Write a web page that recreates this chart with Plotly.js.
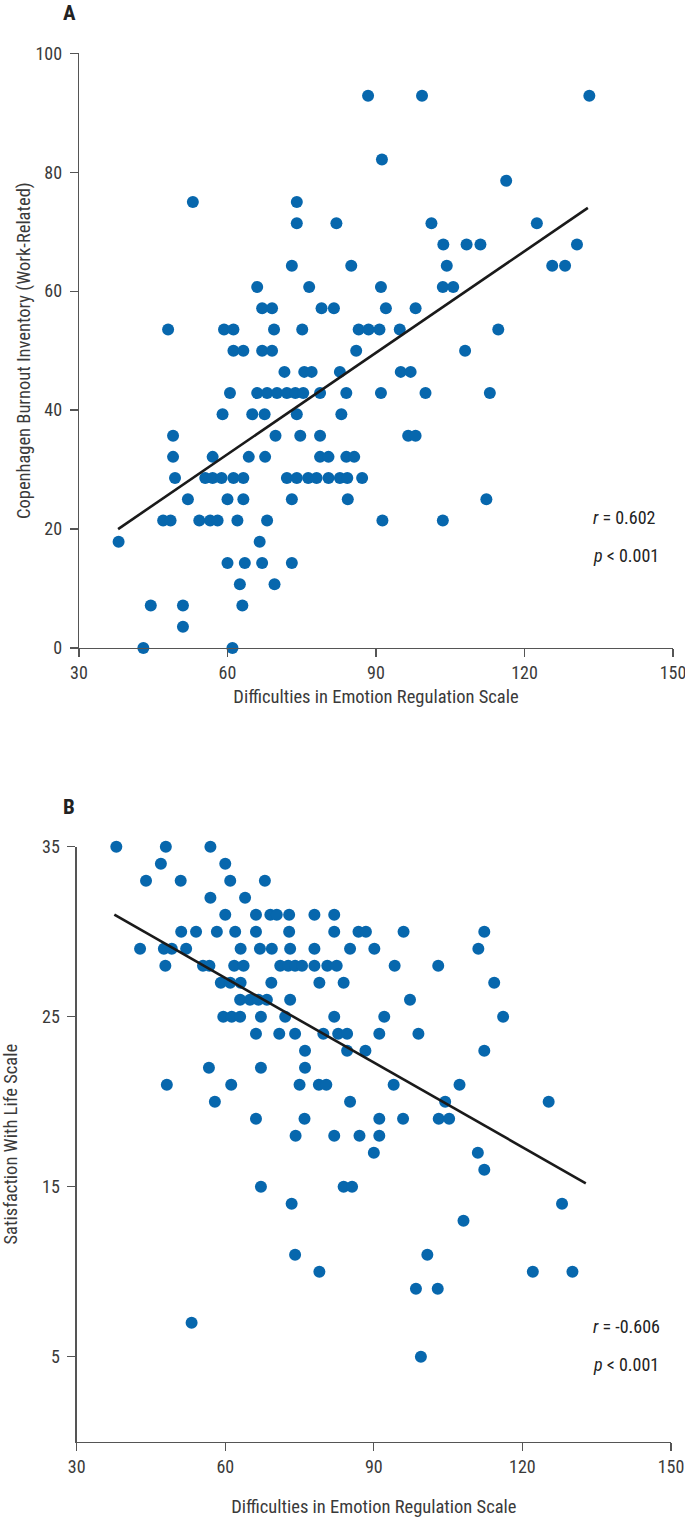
<!DOCTYPE html>
<html>
<head>
<meta charset="utf-8">
<script src="https://cdn.plot.ly/plotly-3.0.1.min.js"></script>
<style>html,body{margin:0;padding:0;background:#fff;}#chart{width:685px;height:1519px;}</style>
</head>
<body>
<div id="chart"></div>
<script>
// Panel A: DERS (x) vs Copenhagen Burnout Inventory work-related (y)
const xA = [43, 61,
  51,
  44.5, 51, 63,
  62.5, 69.5,
  60, 63.5, 67, 73,
  38, 66.5,
  47, 48.5, 54.3, 56.5, 58, 62, 68, 91.3, 103.5,
  52, 60, 63.2, 73, 84.3, 112.3,
  49.4, 55.5, 57, 58.8, 61.2, 63.2, 72, 74, 76.3, 78, 80.4, 82.7, 84.2, 87.2,
  49, 57, 64.3, 67.6, 78.7, 80.4, 84, 85.6,
  49, 69.7, 74.7, 78.7, 96.5, 98,
  59, 65, 67.5, 74, 83,
  60.5, 66, 68, 70, 72, 73.7, 75.3, 78.7, 84, 91, 100, 113,
  71.5, 75.5, 77, 82.7, 95, 97,
  61.2, 63.2, 67, 69, 86, 108,
  48, 59.3, 61.2, 69.4, 75.1, 86.5, 88.5, 90.7, 94.8, 114.7,
  67, 69, 79, 81.5, 92, 98,
  66, 76.5, 91, 103.5, 105.6,
  73, 85, 104.3, 125.6, 128.2,
  103.6, 108.3, 111.1, 130.6,
  74, 82, 101.2, 122.5,
  53, 74,
  116.3,
  91.2,
  88.4, 99.3, 133.1];
const yA = [0, 0,
  3.57,
  7.14, 7.14, 7.14,
  10.71, 10.71,
  14.29, 14.29, 14.29, 14.29,
  17.86, 17.86,
  21.43, 21.43, 21.43, 21.43, 21.43, 21.43, 21.43, 21.43, 21.43,
  25, 25, 25, 25, 25, 25,
  28.57, 28.57, 28.57, 28.57, 28.57, 28.57, 28.57, 28.57, 28.57, 28.57, 28.57, 28.57, 28.57, 28.57,
  32.14, 32.14, 32.14, 32.14, 32.14, 32.14, 32.14, 32.14,
  35.71, 35.71, 35.71, 35.71, 35.71, 35.71,
  39.29, 39.29, 39.29, 39.29, 39.29,
  42.86, 42.86, 42.86, 42.86, 42.86, 42.86, 42.86, 42.86, 42.86, 42.86, 42.86, 42.86,
  46.43, 46.43, 46.43, 46.43, 46.43, 46.43,
  50, 50, 50, 50, 50, 50,
  53.57, 53.57, 53.57, 53.57, 53.57, 53.57, 53.57, 53.57, 53.57, 53.57,
  57.14, 57.14, 57.14, 57.14, 57.14, 57.14,
  60.71, 60.71, 60.71, 60.71, 60.71,
  64.29, 64.29, 64.29, 64.29, 64.29,
  67.86, 67.86, 67.86, 67.86,
  71.43, 71.43, 71.43, 71.43,
  75, 75,
  78.57,
  82.14,
  92.86, 92.86, 92.86];
const fitAx = [37.9, 132.8];
const fitAy = [20.0, 74.0];

// Panel B: DERS (x) vs Satisfaction With Life Scale (y)
const xB = [38, 48, 57,
  47, 60,
  44, 51, 61, 68,
  57, 64,
  60, 66.2, 69.1, 70.4, 72.9, 78, 82,
  51.1, 54.1, 58.3, 62, 66.2, 72.9, 82, 86.9, 88.4, 96, 112.3,
  42.8, 47.6, 49.2, 52.1, 63.1, 67, 69.4, 73.1, 78, 85.2, 90.1, 111.1,
  47.9, 55.5, 56.8, 61.8, 63.7, 71.1, 72.7, 74.1, 75.5, 78, 80.6, 82.5, 94.2, 103,
  59.1, 61, 63.1, 69.3, 79, 83.9, 114.3,
  63, 65, 66.7, 68.4, 73.1, 97.3,
  59.6, 61.3, 63, 67.2, 72.1, 82, 92.1, 116.1,
  66.2, 70.9, 74.1, 79.8, 82.8, 84.6, 91.1, 99,
  76.1, 84.6, 88.3, 112.3,
  56.7, 67.2, 76.1,
  48.2, 61.2, 75, 78.9, 80.4, 94, 107.3,
  57.9, 85.2, 104.4, 125.3,
  66.2, 76, 91.1, 95.9, 103.1, 105.2,
  74.2, 82, 87.1, 91.1,
  90, 111,
  112.3,
  67.2, 83.9, 85.6,
  73.4, 128,
  108.1,
  74.1, 100.8,
  79, 122.1, 130.1,
  98.5, 102.9,
  53.2,
  99.5];
const yB = [35, 35, 35,
  34, 34,
  33, 33, 33, 33,
  32, 32,
  31, 31, 31, 31, 31, 31, 31,
  30, 30, 30, 30, 30, 30, 30, 30, 30, 30, 30,
  29, 29, 29, 29, 29, 29, 29, 29, 29, 29, 29, 29,
  28, 28, 28, 28, 28, 28, 28, 28, 28, 28, 28, 28, 28, 28,
  27, 27, 27, 27, 27, 27, 27,
  26, 26, 26, 26, 26, 26,
  25, 25, 25, 25, 25, 25, 25, 25,
  24, 24, 24, 24, 24, 24, 24, 24,
  23, 23, 23, 23,
  22, 22, 22,
  21, 21, 21, 21, 21, 21, 21,
  20, 20, 20, 20,
  19, 19, 19, 19, 19, 19,
  18, 18, 18, 18,
  17, 17,
  16,
  15, 15, 15,
  14, 14,
  13,
  11, 11,
  10, 10, 10,
  9, 9,
  7,
  5];
const fitBx = [37.6, 132.8];
const fitBy = [31.0, 15.2];

const xTicks = [30, 60, 90, 120, 150];
const yTicksA = [0, 20, 40, 60, 80, 100];
const yTicksB = [5, 15, 25, 35];

const FONT = "'Liberation Sans Narrow', 'Arial Narrow', 'Roboto Condensed', 'Liberation Sans', sans-serif";
const DOT = '#0767ad';
const AXC = '#555555';
const TXT = '#3a3a3a';

const dotStyle = {size: 12, color: DOT, line: {width: 0}};
const traces = [
  {x: xA, y: yA, type: 'scatter', mode: 'markers', marker: dotStyle, cliponaxis: false, xaxis: 'x', yaxis: 'y', hoverinfo: 'x+y'},
  {x: fitAx, y: fitAy, type: 'scatter', mode: 'lines', line: {color: '#1a1a1a', width: 2.6}, xaxis: 'x', yaxis: 'y', hoverinfo: 'skip'},
  {x: xB, y: yB, type: 'scatter', mode: 'markers', marker: dotStyle, cliponaxis: false, xaxis: 'x2', yaxis: 'y2', hoverinfo: 'x+y'},
  {x: fitBx, y: fitBy, type: 'scatter', mode: 'lines', line: {color: '#1a1a1a', width: 2.6}, xaxis: 'x2', yaxis: 'y2', hoverinfo: 'skip'}
];

function xAxis(domain, anchor, standoff) {
  return {
    domain: domain, anchor: anchor, range: [30, 150], tickmode: 'array', tickvals: xTicks,
    showgrid: false, zeroline: false, showline: true, linecolor: AXC, linewidth: 1.3,
    ticks: 'outside', ticklen: 8, tickwidth: 1.3, tickcolor: AXC, ticklabeloverflow: 'allow',
    tickfont: {family: FONT, size: 18, color: TXT},
    title: {text: 'Difficulties in Emotion Regulation Scale', font: {family: FONT, size: 18.5, color: TXT}, standoff: standoff}
  };
}
function yAxis(domain, anchor, range, ticks, title, standoff) {
  return {
    domain: domain, anchor: anchor, range: range, tickmode: 'array', tickvals: ticks,
    showgrid: false, zeroline: false, showline: true, linecolor: AXC, linewidth: 1.3,
    ticks: 'outside', ticklen: 8, tickwidth: 1.3, tickcolor: AXC, ticklabelstandoff: 4,
    tickfont: {family: FONT, size: 18, color: TXT},
    title: {text: title, font: {family: FONT, size: 18.5, color: TXT}, standoff: standoff}
  };
}

const layout = {
  width: 685, height: 1519,
  margin: {l: 0, r: 0, t: 0, b: 0},
  paper_bgcolor: '#ffffff', plot_bgcolor: '#ffffff',
  showlegend: false,
  font: {family: FONT, color: TXT},
  xaxis: xAxis([0.11533, 0.98248], 'y', 8),
  yaxis: yAxis([0.57340, 0.96491], 'x', [0, 100], yTicksA, 'Copenhagen Burnout Inventory (Work-Related)', 0),
  xaxis2: xAxis([0.11197, 0.97956], 'y2', 24),
  yaxis2: yAxis([0.05089, 0.44260], 'x2', [0, 35], yTicksB, 'Satisfaction With Life Scale', 23),
  annotations: [
    {text: '<b>A</b>', xref: 'paper', yref: 'paper', x: 0.102, y: 0.9914, xanchor: 'center', yanchor: 'middle', showarrow: false, font: {family: FONT, size: 21, color: '#222'}},
    {text: '<b>B</b>', xref: 'paper', yref: 'paper', x: 0.101, y: 0.4687, xanchor: 'center', yanchor: 'middle', showarrow: false, font: {family: FONT, size: 21, color: '#222'}},
    {text: '<i>r</i> = 0.602', xref: 'paper', yref: 'paper', x: 0.8628, y: 0.6596, xanchor: 'left', yanchor: 'middle', showarrow: false, font: {family: FONT, size: 18, color: '#222'}},
    {text: '<i>p</i> < 0.001', xref: 'paper', yref: 'paper', x: 0.8628, y: 0.6346, xanchor: 'left', yanchor: 'middle', showarrow: false, font: {family: FONT, size: 18, color: '#222'}},
    {text: '<i>r</i> = -0.606', xref: 'paper', yref: 'paper', x: 0.8628, y: 0.1264, xanchor: 'left', yanchor: 'middle', showarrow: false, font: {family: FONT, size: 18, color: '#222'}},
    {text: '<i>p</i> < 0.001', xref: 'paper', yref: 'paper', x: 0.8628, y: 0.1014, xanchor: 'left', yanchor: 'middle', showarrow: false, font: {family: FONT, size: 18, color: '#222'}}
  ]
};

Plotly.newPlot('chart', traces, layout, {displayModeBar: false, staticPlot: true});
</script>
</body>
</html>
